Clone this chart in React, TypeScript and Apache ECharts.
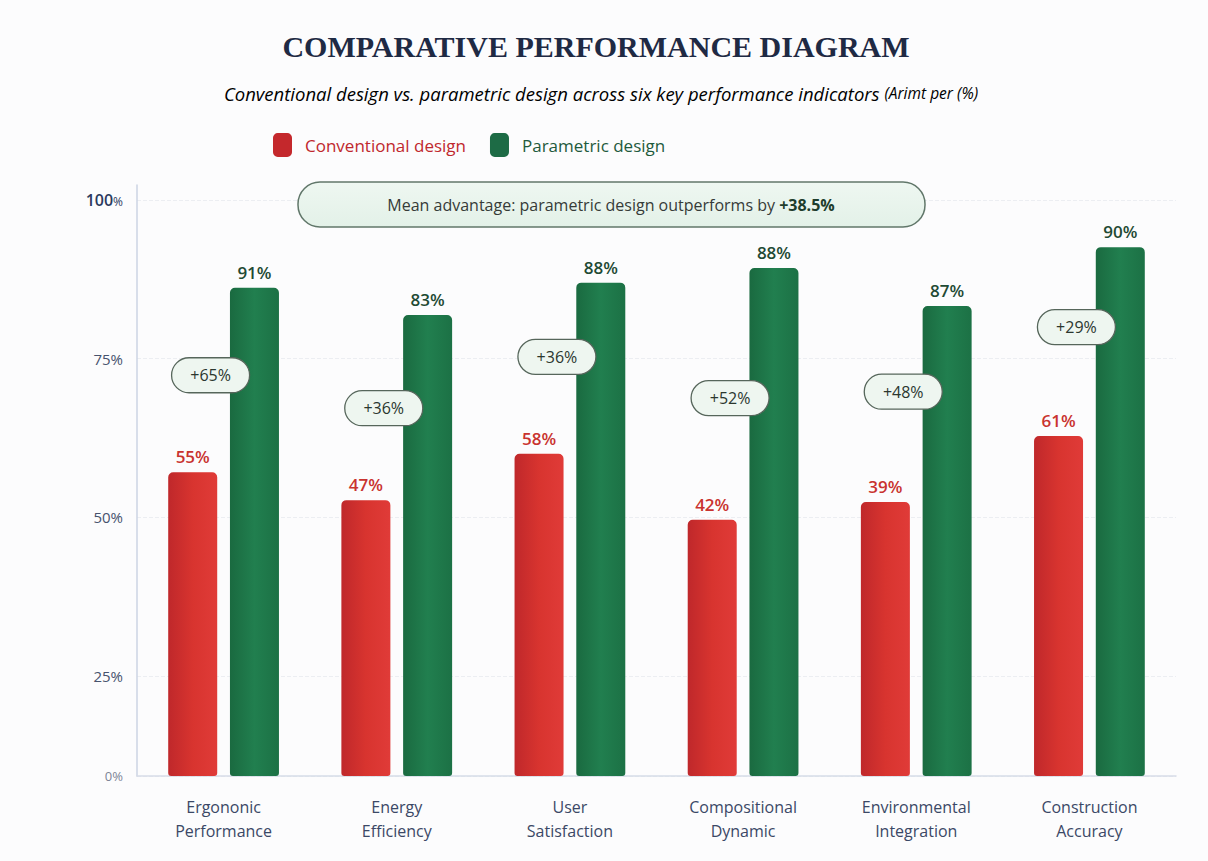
import React, { useEffect, useRef } from 'react';
import * as echarts from 'echarts';

// ---------- data ----------
const categories = [
  'Ergononic\nPerformance',
  'Energy\nEfficiency',
  'User\nSatisfaction',
  'Compositional\nDynamic',
  'Environmental\nIntegration',
  'Construction\nAccuracy',
];
const seriesNames = ['Conventional design', 'Parametric design'];
// bar heights as drawn in the picture (axis units)
const conventionalHeights = [57.1, 52.7, 60.0, 49.6, 52.4, 62.8];
const parametricHeights = [86.2, 81.9, 87.0, 89.3, 83.3, 92.6];
// value labels as printed
const conventionalLabels = ['55%', '47%', '58%', '42%', '39%', '61%'];
const parametricLabels = ['91%', '83%', '88%', '88%', '87%', '90%'];
// advantage pills
const advantageLabels = ['+65%', '+36%', '+36%', '+52%', '+48%', '+29%'];
const advantageLevels = [72.4, 67.2, 75.3, 68.8, 69.8, 80.0];
// y axis
const yMin = 9.2;
const yMax = 102.4;
const yTickValues = [9.2, 25, 50, 75, 100];
const yTickLabels = ['0%', '25%', '50%', '75%', '100%'];

const titleText = 'COMPARATIVE PERFORMANCE DIAGRAM';
const subtitleMain = 'Conventional design vs. parametric design across six key performance indicators ';
const subtitleTail = '(Arimt per (%)';
const meanText = 'Mean advantage: parametric design outperforms by ';
const meanValue = '+38.5%';

const FONT = '"Open Sans", "Noto Sans", sans-serif';

function measure(text: string, font: string): number {
  const c = document.createElement('canvas').getContext('2d');
  if (!c) return text.length * 8;
  c.font = font;
  return c.measureText(text).width;
}

export default function App() {
  const ref = useRef<HTMLDivElement>(null);

  useEffect(() => {
    if (!ref.current) return;
    const chart = echarts.init(ref.current, undefined, { renderer: 'svg' });

    const redFill = new echarts.graphic.LinearGradient(0, 0, 1, 0, [
      { offset: 0, color: '#bf282b' },
      { offset: 0.5, color: '#d8342f' },
      { offset: 1, color: '#e03b38' },
    ]);
    const greenFill = new echarts.graphic.LinearGradient(0, 0, 1, 0, [
      { offset: 0, color: '#1a6a40' },
      { offset: 0.5, color: '#217f4f' },
      { offset: 1, color: '#1c7145' },
    ]);

    const meanFontA = '16px "Open Sans"';
    const meanFontB = 'bold 16px "Open Sans"';
    const wA = measure(meanText, meanFontA);
    const wB = measure(meanValue, meanFontB);
    const meanStart = 611 - (wA + wB) / 2;

    const option: any = {
      animation: false,
      backgroundColor: '#fcfcfd',
      textStyle: { fontFamily: FONT },
      legend: {
        left: 273,
        top: 133,
        padding: 0,
        itemWidth: 19,
        itemHeight: 24,
        itemGap: 24,
        icon: 'roundRect',
        textStyle: { fontSize: 17, fontFamily: FONT, padding: [0, 0, 0, 8] },
        data: [
          { name: seriesNames[0], itemStyle: { color: '#c4282c' }, textStyle: { color: '#c0282d' } },
          { name: seriesNames[1], itemStyle: { color: '#1d6b45' }, textStyle: { color: '#1e5a3c' } },
        ],
      },
      grid: { left: 137, right: 32, top: 185, bottom: 85 },
      xAxis: {
        type: 'category',
        data: categories,
        axisLine: { show: true, lineStyle: { color: '#d6dce7', width: 1.5 } },
        axisTick: { show: false },
        axisLabel: {
          interval: 0,
          margin: 19,
          fontSize: 16,
          lineHeight: 24,
          color: '#3b4866',
          fontFamily: FONT,
        },
        splitLine: { show: false },
      },
      yAxis: {
        type: 'value',
        min: yMin,
        max: yMax,
        axisLine: { show: true, lineStyle: { color: '#cdd5e3', width: 1.5 } },
        axisTick: { show: false, customValues: yTickValues },
        splitLine: { show: true, lineStyle: { color: '#eceef2', type: 'dashed', width: 1 } },
        axisLabel: {
          customValues: yTickValues,
          margin: 14,
          formatter: (v: number) => {
            const idx = yTickValues.findIndex((t) => Math.abs(t - v) < 1e-6);
            const txt = idx >= 0 ? yTickLabels[idx] : '';
            if (idx === 0) return '{z|' + txt + '}';
            if (idx === yTickValues.length - 1) return '{b|' + txt.replace('%', '') + '}{s|%}';
            return '{m|' + txt + '}';
          },
          rich: {
            z: { fontSize: 13, color: '#7d8496', fontFamily: FONT },
            m: { fontSize: 15, color: '#47536e', fontFamily: FONT },
            b: { fontSize: 16, color: '#2b3a5e', fontWeight: 600, fontFamily: FONT },
            s: { fontSize: 12, color: '#2b3a5e', fontFamily: FONT, padding: [3, 0, 0, 0] },
          },
        },
      },
      series: [
        {
          name: seriesNames[0],
          type: 'bar',
          data: conventionalHeights,
          barWidth: 49,
          barGap: '26%',
          itemStyle: { color: redFill, borderRadius: [5, 5, 3, 3] },
          label: {
            show: true,
            position: 'top',
            distance: 7,
            formatter: (p: any) => conventionalLabels[p.dataIndex],
            fontSize: 17,
            fontWeight: 600,
            color: '#c9332f',
            fontFamily: FONT,
          },
        },
        {
          name: seriesNames[1],
          type: 'bar',
          data: parametricHeights,
          barWidth: 49,
          itemStyle: { color: greenFill, borderRadius: [5, 5, 3, 3] },
          label: {
            show: true,
            position: 'top',
            distance: 7,
            formatter: (p: any) => parametricLabels[p.dataIndex],
            fontSize: 17,
            fontWeight: 600,
            color: '#1f4a34',
            fontFamily: FONT,
          },
        },
        {
          name: 'advantage',
          type: 'custom',
          z: 5,
          silent: true,
          data: advantageLevels.map((v, i) => [i, v]),
          encode: { x: 0, y: 1 },
          renderItem: (params: any, api: any) => {
            const p = api.coord([api.value(0), api.value(1)]);
            const cx = p[0] - 13;
            const cy = p[1];
            const w = 78;
            const h = 35;
            return {
              type: 'group',
              children: [
                {
                  type: 'rect',
                  shape: { x: cx - w / 2, y: cy - h / 2, width: w, height: h, r: h / 2 },
                  style: { fill: '#eef6f0', stroke: '#56665b', lineWidth: 1.3 },
                },
                {
                  type: 'text',
                  style: {
                    text: advantageLabels[params.dataIndex],
                    x: cx,
                    y: cy,
                    textAlign: 'center',
                    textVerticalAlign: 'middle',
                    align: 'center',
                    verticalAlign: 'middle',
                    fill: '#2b372f',
                    font: '16px ' + FONT,
                  },
                },
              ],
            };
          },
        },
      ],
      graphic: [
        {
          type: 'text',
          x: 596,
          y: 46,
          style: {
            text: titleText,
            textAlign: 'center',
            textVerticalAlign: 'middle',
            fill: '#1f2a44',
            font: 'bold 30px "Liberation Serif", "DejaVu Serif", serif',
          },
        },
        {
          type: 'text',
          x: 601,
          y: 93,
          style: {
            text: '{a|' + subtitleMain + '}{b|' + subtitleTail + '}',
            textAlign: 'center',
            textVerticalAlign: 'middle',
            rich: {
              a: { fontSize: 18.5, fontStyle: 'italic', color: '#4a4a4a', fontFamily: FONT },
              b: { fontSize: 15.5, fontStyle: 'italic', color: '#585858', fontFamily: FONT },
            },
          },
        },
        {
          type: 'rect',
          z: 10,
          shape: { x: 298, y: 182, width: 627, height: 45, r: 22 },
          style: {
            fill: new echarts.graphic.LinearGradient(0, 0, 0, 1, [
              { offset: 0, color: '#eef7f1' },
              { offset: 1, color: '#e3f1e8' },
            ]),
            stroke: '#61776a',
            lineWidth: 1.5,
          },
        },
        {
          type: 'text',
          z: 11,
          x: meanStart,
          y: 205,
          style: {
            text: meanText,
            textAlign: 'left',
            textVerticalAlign: 'middle',
            fill: '#363b38',
            font: meanFontA,
          },
        },
        {
          type: 'text',
          z: 11,
          x: meanStart + wA,
          y: 205,
          style: {
            text: meanValue,
            textAlign: 'left',
            textVerticalAlign: 'middle',
            fill: '#1e3d2c',
            font: meanFontB,
          },
        },
      ],
    };

    chart.setOption(option);
    return () => chart.dispose();
  }, []);

  return (
    <div
      ref={ref}
      style={{ position: 'absolute', left: 0, top: 0, width: 1208, height: 861 }}
    />
  );
}
